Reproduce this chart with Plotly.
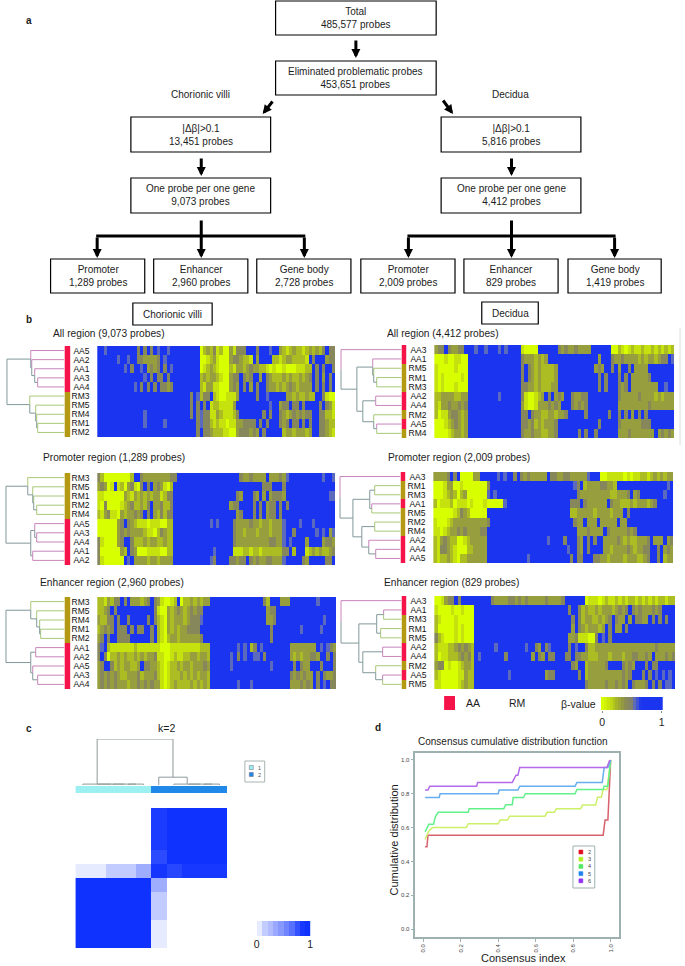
import plotly.graph_objects as go

W, H = 685, 966
FONT = "Liberation Sans"
BLUE = "#1a34f0"
BETA_SCALE = [[0, "#d8ff00"], [0.12, "#c4e010"], [0.25, "#a6b428"], [0.4, "#8a8c50"], [0.5, "#82826c"], [0.56, "#5868c4"], [0.66, BLUE], [1, BLUE]]

# ---------- panel a ----------
flow_boxes = [
    ("Total<br>485,577 probes", 275, 437, 1, 35),
    ("Eliminated problematic probes<br>453,651 probes", 275, 437, 61, 95),
    ("|Δβ|>0.1<br>13,451 probes", 129, 270, 117, 152),
    ("|Δβ|>0.1<br>5,816 probes", 442, 583, 117, 152),
    ("One probe per one gene<br>9,073 probes", 129, 270, 178, 213),
    ("One probe per one gene<br>4,412 probes", 442, 583, 178, 213),
    ("Promoter<br>1,289 probes", 48, 143, 259, 293),
    ("Enhancer<br>2,960 probes", 152, 247, 259, 293),
    ("Gene body<br>2,728 probes", 256, 351, 259, 293),
    ("Promoter<br>2,009 probes", 361, 456, 259, 293),
    ("Enhancer<br>829 probes", 465, 560, 259, 293),
    ("Gene body<br>1,419 probes", 570, 664, 259, 293),
]
flow_arrows = [
    (356, 39, 356, 58), (273, 100, 262, 114), (443, 99, 454, 114),
    (200, 157, 200, 176), (513, 157, 513, 176),
    (95, 236, 95, 258), (200, 219, 200, 258), (304, 236, 304, 258),
    (409, 236, 409, 258), (513, 219, 513, 258), (617, 236, 617, 258),
]

# ---------- panel b (digit = beta-value in ninths) ----------
cv_all_labels = ["AA5", "AA2", "AA1", "AA3", "AA4", "RM3", "RM5", "RM4", "RM1", "RM2"]
cv_all_rows = [
    "995999999999 494949599599 999999902324 120031444999 499959932123 221232324944",
    "999999599599 443333495999 999999900123 100034432219 399992212332 222194999344",
    "999999995949 959343494959 999999901232 100021332343 322101001000 111229494994",
    "999999999999 995949449499 999999923233 210034494349 939432223232 232349493949",
    "999999999995 949494944349 999999921331 100034394939 499433232343 233339494949",
    "999999999999 999999999999 999949524492 100111399999 499599999332 322322994100",
    "999999999999 999999999999 999949494912 211113999999 999959934494 494999949431",
    "999999999999 995999999999 999949454411 321112499999 994949943234 343449944221",
    "999999999999 995999995999 999999454421 211011334444 949499943494 494949944322",
    "999999999999 999999999999 999999494432 221100344434 394999992332 333239944321",
]
cv_all_tree = (58, (34, 0, (33, 1, (30, 2, (27, 3, 4)))), (35, 5, (29, 6, (28, 7, (27, 8, 9)))))

cv_prom_labels = ["RM3", "RM5", "RM1", "RM2", "RM4", "AA5", "AA3", "AA4", "AA1", "AA2"]
cv_prom_rows = [
    "420000000029 943333333344 999999999999 999999943343 333933343599 999999995995",
    "343019120341 049493431029 999999999999 999999999999 994449994999 999999999999",
    "110000003213 232323312449 999999999999 999999439994 393934443999 999999999955",
    "104000012342 232493342249 999999999999 999934499994 949344949499 999999999999",
    "213411032334 349493242449 999999999999 999999349994 949344949999 999999999999",
    "000000349432 111011100229 999999999959 599994333343 323323335999 959995999999",
    "000000343433 332110243229 999999999999 999994332333 233323335994 999999595935",
    "410000349942 223233223229 999999999999 999994333333 333344335959 999399993443",
    "400000032943 000111100229 999999999995 999991112212 212222224492 999123232234",
    "410000009593 333233233339 999999999954 999944344943 433443335999 994399999449",
]
cv_prom_tree = (59, (37, 0, (32, 1, (31, 2, (28, 3, 4)))), (34, (30, 5, (28, 6, 7)), (32, 8, 9)))

cv_enh_labels = ["RM3", "RM5", "RM4", "RM1", "RM2", "AA1", "AA2", "AA5", "AA3", "AA4"]
cv_enh_rows = [
    "221324494933 323494310012 902232323399 999999999999 994299933399 999999599999",
    "223494999999 999994100323 432343449999 999999999999 999344999999 999999999999",
    "322449499499 999494210323 332344459999 999999999999 999334999999 999999995999",
    "234349444949 449949210323 233444499999 999999999999 999949999999 959999959999",
    "349499444499 999949210233 233333349999 999999999999 999949999999 999999999999",
    "459211111112 111111100011 111111122299 999999595924 959999999933 333333959543",
    "494022323223 232334110012 112233233299 999959495995 594999999932 323344399494",
    "349942323322 394433210122 323323334399 999959999999 999959999994 943399949994",
    "343434322333 423334210122 232323233299 999999999999 999999999943 434339494334",
    "343434333233 434343310123 222232323299 999999599959 999999999933 343439495944",
]
cv_enh_tree = (59, (34, 0, (28, 1, (25, 2, (24, 3, 4)))), (34, (29, 5, 6), (32, 7, (27, 8, 9))))

dec_all_labels = ["AA3", "AA1", "RM5", "RM1", "RM3", "AA2", "AA4", "RM2", "AA5", "RM4"]
dec_all_rows = [
    "344943344999 599599959599 991000099999 943433433339 999990021012 112112121212",
    "000100110099 999999999999 994333232399 999999999999 939994334333 323233234495",
    "100000100099 999999999999 994943232222 399999999999 343994939949 333399999999",
    "101000001099 999999999999 994943232222 399999999999 949499949493 333349999999",
    "101000100099 999999999999 994433232223 399999999999 949499943493 333333399599",
    "223333223399 999999959999 994100123949 343994334499 999999943333 343333232333",
    "213343343499 999999999999 993100133343 439994343499 999999933333 333343333333",
    "201134432399 999999999999 994494332233 233499999499 999949949493 949499999999",
    "000123432399 999999999999 994434232333 499999999999 949999943333 334449999999",
    "000012332399 999999999999 994334332233 499999949499 499999933343 333333934343",
]
dec_all_tree = (61, 0, (45, (29, 1, (28, 2, (25, 3, 4))), (39, (26, 5, 6), (28, 7, (25, 8, 9)))))

dec_prom_labels = ["AA3", "RM1", "RM3", "AA1", "RM5", "RM2", "RM4", "AA2", "AA4", "AA5"]
dec_prom_rows = [
    "333349490000 339999959599 494343333394 433443333359 990011111010 112212323233",
    "000133001000 000049999999 999999999999 999999549233 334433299999 999999999959",
    "000123202300 000059599999 999999999999 999999943333 333332233349 349999999599",
    "201112011101 000100000599 999999999999 999994449433 333394332223 233323499999",
    "000000124320 000099999999 999999999999 999992233333 233332333949 999999999999",
    "100012333333 333349999999 999999999999 999999433933 393333393399 999999999999",
    "110123343433 334499999999 999999999999 999999933343 333943333343 499999999999",
    "213432200123 333399999999 999999999959 999499943949 499333343232 233349333934",
    "214432100022 333399999999 999999999999 999959943949 999332333343 233449949343",
    "212232102233 333399999999 999959999999 999994944999 443323333233 322349949233",
]
dec_prom_tree = (61, 0, (48, (31, (26, 1, 2), (29, 3, 4)), (39, (26, 5, 6), (32, 7, (25, 8, 9)))))

dec_enh_labels = ["AA3", "AA1", "RM3", "RM1", "RM5", "AA2", "AA4", "RM2", "AA5", "RM5"]
dec_enh_rows = [
    "001344949999 999994333344 343433333433 334999999011 101211212122 121212122122",
    "100001001000 999999999999 999999999999 999949942322 323332343494 343334349999",
    "210000100000 999999999999 999999999999 999994942332 232349433939 443394949499",
    "200000101000 999999999999 999999999999 999993943233 323949339499 999999999999",
    "421000101000 999999999999 999999999999 999933411100 495949999999 999999999999",
    "211122343432 999999599999 999599439459 999949599422 333333333333 333333433333",
    "201122234342 959999999499 999993943944 999449443322 233323332334 433439333434",
    "344010012332 999999999999 999999999999 999994399233 333499994343 999494499999",
    "210000011322 999999999959 999999999344 999999949233 333333334349 994949595959",
    "110000012322 999999999999 999999999999 999999999433 333433434394 333494949559",
]
dec_enh_tree = (61, 0, (43, (25, (18, 1, 2), (21, 3, 4)), (39, (19, 5, 6), (26, 7, (19, 8, 9)))))

beta_steps = [0, .05, .1, .15, .2, .25, .3, .35, .4, .45, .5, .55, .6, .65, .7, .75, .8, .85, .9, .95, 1]

# ---------- panel c ----------
consensus = [
    [0, 0, 0, 0, 0, .95, 1, 1, 1, 1],
    [0, 0, 0, 0, 0, .95, 1, 1, 1, 1],
    [0, 0, 0, 0, 0, .95, 1, 1, 1, 1],
    [0, 0, 0, 0, 0, .88, 1, 1, 1, 1],
    [.1, .1, .25, .25, .4, .98, .9, .97, .97, .97],
    [1, 1, 1, 1, 1, .4, 0, 0, 0, 0],
    [1, 1, 1, 1, 1, .25, 0, 0, 0, 0],
    [1, 1, 1, 1, 1, .25, 0, 0, 0, 0],
    [1, 1, 1, 1, 1, .1, 0, 0, 0, 0],
    [1, 1, 1, 1, 1, .1, 0, 0, 0, 0],
]
cluster_of_col = [0, 0, 0, 0, 0, 1, 1, 1, 1, 1]
consensus_tree = (1.0, (0.02, 0, (0.02, 1, (0.02, 2, (0.02, 3, 4)))), (0.17, 5, (0.02, 6, (0.02, 7, (0.02, 8, 9)))))
consensus_steps = [.05, .15, .25, .35, .45, .55, .65, .75, .85, .95]
consensus_step_z = [.1, .25, .32, .42, .5, .6, .7, .85, .97, 1]

# ---------- panel d ----------
k2_x = [.01, .02, .025, .96, .97, .985, 1.0]
k2_y = [.487, .487, .555, .555, .645, .645, 1.0]
k3_x = [.01, .02, .03, .05, .23, .24, .40, .41, .45, .46, .65, .66, .70, .71, .84, .85, .92, .93, .95, .96, .98, 1.0]
k3_y = [.53, .56, .58, .60, .60, .622, .622, .645, .645, .667, .667, .69, .69, .712, .712, .733, .733, .78, .78, .825, .825, 1.0]
k4_x = [.01, .02, .03, .055, .065, .08, .24, .245, .43, .44, .475, .48, .535, .545, .81, .82, .96, .965, .985, 1.0]
k4_y = [.575, .60, .62, .62, .665, .69, .69, .712, .712, .735, .735, .778, .778, .80, .80, .825, .825, .845, .845, 1.0]
k5_x = [.01, .085, .09, .40, .405, .505, .515, .81, .82, .955, .965, .985, 1.0]
k5_y = [.778, .778, .80, .80, .822, .822, .845, .845, .867, .867, .955, .955, 1.0]
k6_x = [.01, .025, .035, .285, .29, .475, .495, .505, .515, .98, .995]
k6_y = [.822, .822, .845, .845, .867, .867, .91, .91, .955, .955, 1.0]
cdf_names = ["2", "3", "4", "5", "6"]
cdf_line_colors = ["#d8606c", "#cdf06a", "#62f08a", "#66aef0", "#b46aea"]
cdf_key_colors = ["#e01020", "#b0f020", "#50e860", "#2080f0", "#9030f0"]

# ---------- helpers ----------
def px(x): return x / W
def py(y): return 1 - y / H

fig = go.Figure()
layout = dict(width=W, height=H, margin=dict(l=0, r=0, t=0, b=0), paper_bgcolor="white",
              plot_bgcolor="white", showlegend=False, font=dict(family=FONT, color="#1c1c1c"), hovermode=False)
shapes, annos = [], []
axis_n = [0]

def axes(x0, x1, y0, y1, xopts=None, yopts=None):
    axis_n[0] += 1
    n = axis_n[0]
    s = "" if n == 1 else str(n)
    base = dict(showgrid=False, zeroline=False, showticklabels=False, ticks="", showline=False)
    layout["xaxis" + s] = {**base, "domain": [px(x0), px(x1)], "anchor": "y" + s, **(xopts or {})}
    layout["yaxis" + s] = {**base, "domain": [py(y1), py(y0)], "anchor": "x" + s, **(yopts or {})}
    return "x" + s, "y" + s

def text(x, y, s, size=10, anchor="center", **kw):
    annos.append(dict(x=px(x), y=py(y), xref="paper", yref="paper", text=s, showarrow=False,
                      xanchor=anchor, yanchor="middle", font=dict(size=size, family=FONT, color=kw.pop("color", "#1c1c1c")), **kw))

def rect(x0, y0, x1, y1, line="black", width=1.2, fill=None):
    shapes.append(dict(type="rect", xref="paper", yref="paper", x0=px(x0), x1=px(x1), y0=py(y0), y1=py(y1),
                       line=dict(color=line, width=width), fillcolor=fill or "rgba(0,0,0,0)"))

def dendro_segments(tree, leaf_color, inner="#82989a"):
    segs = {}
    def walk(node):
        if isinstance(node, int):
            return 0.0, float(node)
        h, a, b = node
        ca, cb = walk(a), walk(b)
        pos = (ca[1] + cb[1]) / 2
        for child, c in ((a, ca), (b, cb)):
            col = leaf_color(child) if isinstance(child, int) else inner
            s = segs.setdefault(col, ([], []))
            s[0].extend([c[0], h, h, None])
            s[1].extend([c[1], c[1], pos, None])
        return h, pos
    walk(tree)
    return segs

def heat_panel(labels, rows, tree, hx0, hx1, y0, y1, dx0, dx1, bx0, bx1, dmax):
    z = [[int(c) / 9 for c in r.replace(" ", "")[:72].ljust(72, r[-1])] for r in rows]
    rng = [9.5, -0.5]
    xa, ya = axes(hx0, hx1, y0, y1, dict(range=[-0.5, 71.5]),
                  dict(range=rng, showticklabels=True, tickvals=list(range(10)), ticktext=labels,
                       ticks="outside", ticklen=5, tickcolor="white", tickfont=dict(size=8.5, family=FONT, color="#111")))
    fig.add_trace(go.Heatmap(z=z, xaxis=xa, yaxis=ya, colorscale=BETA_SCALE, zmin=0, zmax=1, showscale=False, hoverinfo="skip"))
    xb, yb = axes(bx0, bx1, y0, y1, dict(range=[-0.5, 0.5]), dict(range=rng))
    fig.add_trace(go.Heatmap(z=[[0 if l.startswith("AA") else 1] for l in labels], xaxis=xb, yaxis=yb,
                             colorscale=[[0, "#f5144a"], [1, "#b49a12"]], zmin=0, zmax=1, showscale=False, hoverinfo="skip"))
    xd, yd = axes(dx0, dx1, y0, y1, dict(range=[dmax, 0]), dict(range=rng))
    leaf = lambda i: "#c884bc" if labels[i].startswith("AA") else "#a8c878"
    for col, (sx, sy) in dendro_segments(tree, leaf).items():
        fig.add_trace(go.Scatter(x=sx, y=sy, mode="lines", xaxis=xd, yaxis=yd, line=dict(color=col, width=1), hoverinfo="skip"))

# ---------- draw panel a ----------
text(26, 21, "<b>a</b>", 10)
for label, x0, x1, y0, y1 in flow_boxes:
    rect(x0, y0, x1, y1)
    text((x0 + x1) / 2, (y0 + y1) / 2, label, 10)
text(199, 94, "Chorionic villi", 10)
text(512, 94, "Decidua", 10)
for ax, ay, bx, by in flow_arrows:
    annos.append(dict(x=px(bx), y=py(by), xref="paper", yref="paper", axref="pixel", ayref="pixel",
                      ax=ax - bx, ay=ay - by, text="", showarrow=True, arrowhead=2, arrowsize=0.6, arrowwidth=3, arrowcolor="black"))
for x0, x1 in ((95, 304), (409, 617)):
    shapes.append(dict(type="line", xref="paper", yref="paper", x0=px(x0 - 1), x1=px(x1 + 1), y0=py(236), y1=py(236),
                       line=dict(color="black", width=3)))

# ---------- draw panel b ----------
text(26, 319, "<b>b</b>", 10)
rect(131, 303, 211, 325, width=1.2)
text(171, 314, "Chorionic villi", 10)
rect(483, 302, 540, 324, width=1.2)
text(512, 313, "Decidua", 10)
text(48, 333, "All region (9,073 probes)", 10.2, "left")
text(38, 457, "Promoter region (1,289 probes)", 10.2, "left")
text(35, 582, "Enhancer region (2,960 probes)", 10.2, "left")
text(385, 333, "All region (4,412 probes)", 10.2, "left")
text(386, 457, "Promoter region (2,009 probes)", 10.2, "left")
text(382, 582, "Enhancer region (829 probes)", 10.2, "left")

heat_panel(cv_all_labels, cv_all_rows, cv_all_tree, 95, 335, 346, 437, 2, 62, 62, 68, 60)
heat_panel(cv_prom_labels, cv_prom_rows, cv_prom_tree, 95, 335, 473, 565, 1, 62, 62, 68, 61)
heat_panel(cv_enh_labels, cv_enh_rows, cv_enh_tree, 95, 336, 597, 689, 1, 62, 62, 68, 61)
heat_panel(dec_all_labels, dec_all_rows, dec_all_tree, 435, 677, 345, 438, 340, 402, 402, 407, 62)
heat_panel(dec_prom_labels, dec_prom_rows, dec_prom_tree, 434, 676, 472, 563, 339, 401, 401, 406, 62)
heat_panel(dec_enh_labels, dec_enh_rows, dec_enh_tree, 435, 678, 596, 689, 340, 402, 402, 407, 62)

shapes.append(dict(type="line", xref="paper", yref="paper", x0=px(683), x1=px(683), y0=py(328), y1=py(445),
                   line=dict(color="#dddddd", width=1)))
rect(445, 696, 456, 710, line="#f5144a", width=0, fill="#f5144a")
text(465, 703, "AA", 10.5, "left")
text(508, 703, "RM", 10.5, "left")
text(561, 704, "β-value", 10.5, "left")
xa, ya = axes(603, 666, 697, 710,
              dict(range=[-0.025, 1.025], showticklabels=True, tickvals=[0, 1], ticktext=["0", "1"],
                   tickfont=dict(size=10.5, family=FONT), ticklen=2, ticks="outside", tickcolor="#888"),
              dict(range=[-0.5, 0.5]))
fig.add_trace(go.Heatmap(z=[beta_steps], x=beta_steps, xaxis=xa, yaxis=ya, colorscale=BETA_SCALE, zmin=0, zmax=1,
                         showscale=False, hoverinfo="skip"))

# ---------- draw panel c ----------
text(26, 728, "<b>c</b>", 10)
text(165, 728, "k=2", 10.5)
xa, ya = axes(73, 226, 808, 948, dict(range=[-0.5, 9.5]), dict(range=[9.5, -0.5]))
fig.add_trace(go.Heatmap(z=consensus, xaxis=xa, yaxis=ya, colorscale=[[0, "white"], [1, "#0f32ff"]], zmin=0, zmax=1,
                         showscale=False, hoverinfo="skip"))
xa, ya = axes(73, 226, 786, 793, dict(range=[-0.5, 9.5]), dict(range=[-0.5, 0.5]))
fig.add_trace(go.Heatmap(z=[cluster_of_col], xaxis=xa, yaxis=ya, colorscale=[[0, "#9cf0f2"], [1, "#2088e8"]], zmin=0, zmax=1,
                         showscale=False, hoverinfo="skip"))
xa, ya = axes(73, 226, 739, 785, dict(range=[-0.5, 9.5]), dict(range=[0, 1]))
for col, (sh, sp) in dendro_segments(consensus_tree, lambda i: "#8e9a9a", "#8e9a9a").items():
    fig.add_trace(go.Scatter(x=sp, y=sh, mode="lines", xaxis=xa, yaxis=ya, line=dict(color=col, width=1), hoverinfo="skip"))
rect(244, 761, 264, 782, line="#a8b4b4", width=1)
for key, col, yy in (("1", "#9cf0f2", 767.5), ("2", "#2088e8", 774.5)):
    rect(248.5, yy - 2, 252.5, yy + 2, line="#667", width=0.5, fill=col)
    text(259, yy, key, 5.5, color="#555")
xa, ya = axes(256, 310, 921, 936,
              dict(range=[0, 1], showticklabels=True, tickvals=[0, 1], ticktext=["0", "1"],
                   tickfont=dict(size=10.5, family=FONT), ticks="", ticklen=0),
              dict(range=[-0.5, 0.5]))
fig.add_trace(go.Heatmap(z=[consensus_step_z], x=consensus_steps, xaxis=xa, yaxis=ya,
                         colorscale=[[0, "white"], [1, "#0f32ff"]], zmin=0, zmax=1, showscale=False, hoverinfo="skip"))

# ---------- draw panel d ----------
text(378, 727, "<b>d</b>", 10)
text(515, 741, "Consensus cumulative distribution function", 10)
text(525, 958, "Consensus index", 11)
annos.append(dict(x=px(394), y=py(840), xref="paper", yref="paper", text="Cumulative distribution", textangle=-90,
                  showarrow=False, xanchor="center", yanchor="middle", font=dict(size=11, family=FONT, color="#1c1c1c")))
tick_vals = [0, .2, .4, .6, .8, 1.0]
tick_text = ["0.0", "0.2", "0.4", "0.6", "0.8", "1.0"]
common = dict(showline=True, linecolor="#9fb0b0", linewidth=1.5, mirror=True, showticklabels=True,
              tickvals=tick_vals, ticktext=tick_text, ticks="outside", ticklen=3, tickcolor="#9fb0b0",
              tickfont=dict(size=6, family=FONT, color="#444"))
xa, ya = axes(416, 621, 753, 937,
              dict(range=[-0.042, 1.042], tickangle=-90, **common),
              dict(range=[-0.047, 1.041], tickangle=0, **common))
for xs, ys, col, nm in zip((k2_x, k3_x, k4_x, k5_x, k6_x), (k2_y, k3_y, k4_y, k5_y, k6_y), cdf_line_colors, cdf_names):
    fig.add_trace(go.Scatter(x=xs, y=ys, mode="lines", name=nm, xaxis=xa, yaxis=ya, line=dict(color=col, width=1.5), hoverinfo="skip"))
rect(575, 846, 597, 888, line="#9fb0b0", width=1)
for i, (nm, col) in enumerate(zip(cdf_names, cdf_key_colors)):
    yy = 852 + i * 7.2
    rect(581, yy - 2, 585, yy + 2, line=col, width=0.5, fill=col)
    text(592, yy, nm, 5.5, color="#444")

layout["shapes"] = shapes
layout["annotations"] = annos
fig.update_layout(**layout)
fig.write_html("out.html", config={"displayModeBar": False},
               post_script="document.body.style.margin='0';document.body.style.overflow='hidden';"
                           "document.querySelectorAll('.hm image, .heatmaplayer image').forEach(function(e){e.style.filter='blur(0.6px)';});")
